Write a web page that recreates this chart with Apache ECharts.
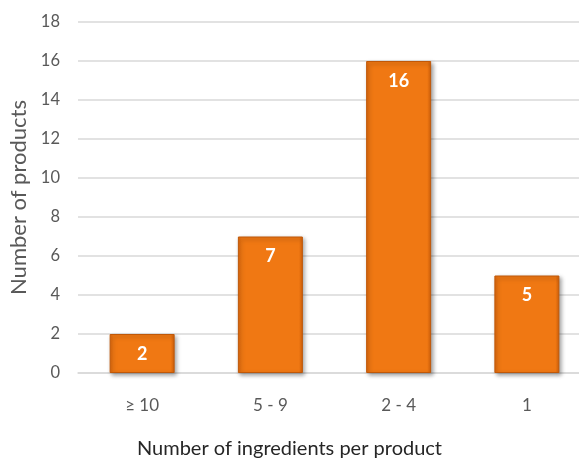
<!DOCTYPE html>
<html>
<head>
<meta charset="utf-8">
<script src="https://cdn.jsdelivr.net/npm/echarts@6/dist/echarts.min.js"></script>
<style>
  html, body { margin: 0; padding: 0; background: #fff; }
  #chart { width: 579px; height: 459px; }
</style>
</head>
<body>
<div id="chart"></div>
<script>
// data
const categories = ['≥ 10', '5 - 9', '2 - 4', '1'];
const products = [2, 7, 16, 5];
const yTicks = [0, 18, 2]; // min, max, step

const myChart = echarts.init(document.getElementById('chart'));

const barColor = new echarts.graphic.LinearGradient(0, 0, 1, 0, [
    { offset: 0, color: '#d9650c' },
    { offset: 0.06, color: '#f07813' },
    { offset: 0.94, color: '#f07813' },
    { offset: 1, color: '#cf5f0a' }
]);

const option = {
    backgroundColor: '#ffffff',
    textStyle: { fontFamily: 'Lato' },
    title: {
        text: 'Number of ingredients per product',
        left: 'center',
        top: 434,
        textStyle: {
            fontFamily: 'Lato',
            fontWeight: 'normal',
            fontSize: 20,
            color: '#262626'
        }
    },
    grid: {
        left: 78,
        top: 22,
        width: 513,
        height: 351,
        outerBoundsMode: 'none'
    },
    xAxis: {
        type: 'category',
        data: categories,
        axisLine: { show: true, lineStyle: { color: '#d9d9d9', width: 1.5 } },
        axisTick: { show: false },
        axisLabel: {
            margin: 24,
            fontSize: 17,
            color: '#595959'
        }
    },
    yAxis: {
        type: 'value',
        min: yTicks[0],
        max: yTicks[1],
        interval: yTicks[2],
        name: 'Number of products',
        nameLocation: 'middle',
        nameGap: 44,
        nameTextStyle: {
            fontSize: 22,
            color: '#595959'
        },
        axisLine: { show: false },
        axisTick: { show: false },
        axisLabel: {
            margin: 18,
            fontSize: 16.5,
            color: '#595959'
        },
        splitLine: { lineStyle: { color: '#d9d9d9', width: 1.5 } }
    },
    series: [{
        type: 'bar',
        data: products,
        barWidth: 65,
        itemStyle: {
            color: barColor,
            borderColor: '#c05808',
            borderWidth: 1,
            shadowBlur: 4,
            shadowColor: 'rgba(0,0,0,0.35)',
            shadowOffsetX: 2,
            shadowOffsetY: 2
        },
        label: {
            show: true,
            position: 'insideTop',
            distance: 11,
            color: '#ffffff',
            fontWeight: 'bold',
            fontSize: 18
        }
    }]
};

myChart.setOption(option);
</script>
</body>
</html>
